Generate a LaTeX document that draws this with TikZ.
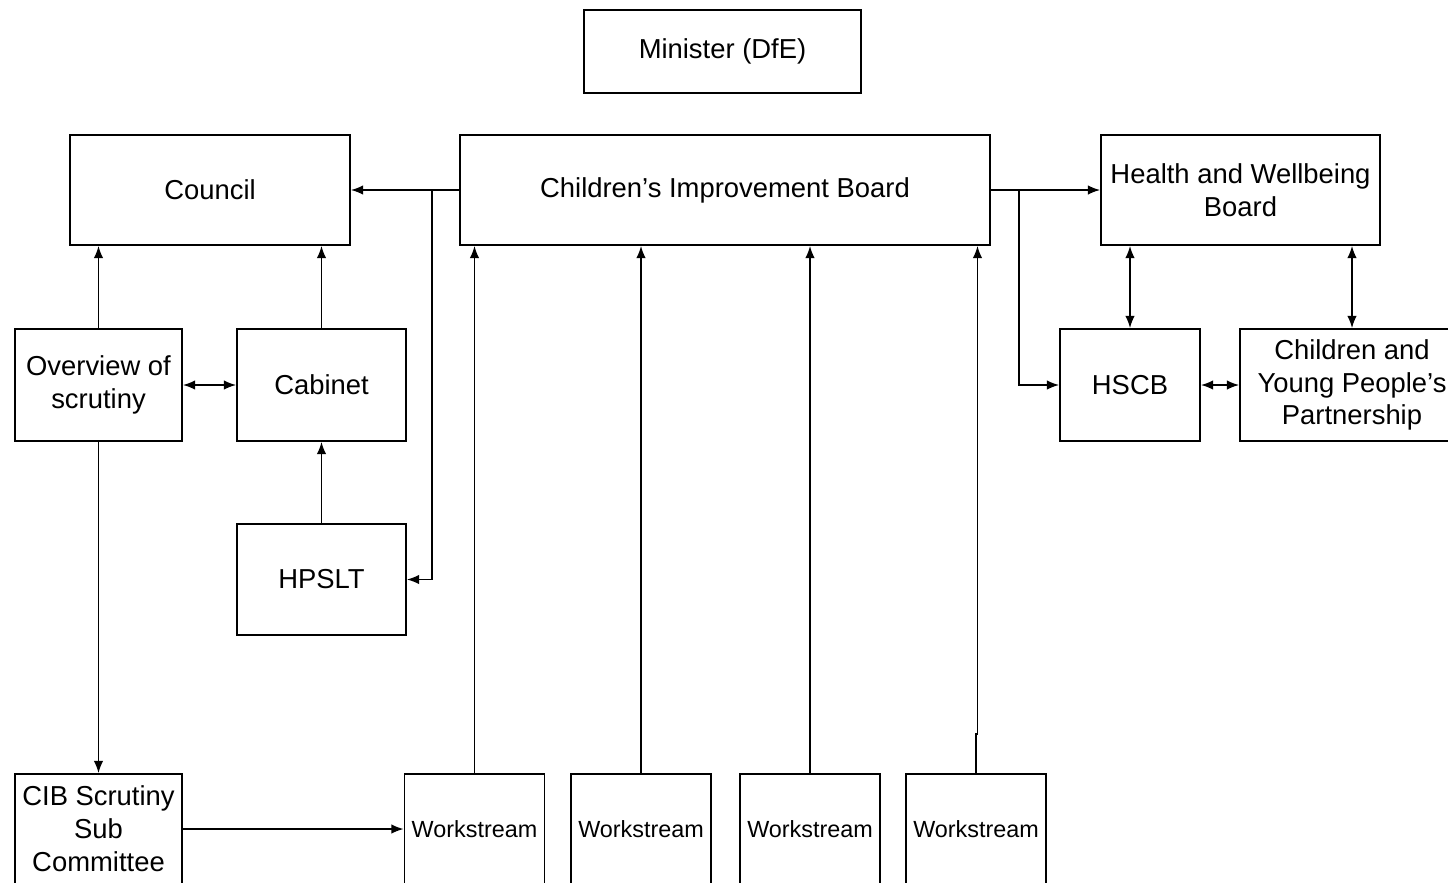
\documentclass[tikz,border=0pt]{standalone}
\usepackage{fontspec}
\setmainfont{Liberation Sans}
\usetikzlibrary{arrows.meta}
\tikzset{
	unit/.style = {draw, line width=1pt, inner sep=0pt, align=center,
	 font=\fontsize{15.6}{18.7}\selectfont},
	wsunit/.style = {unit, minimum width=2.8cm, minimum height=2.2cm,
	 font=\fontsize{13.3}{16}\selectfont},
	link/.style = {line width=1pt, -{Latex[length=7pt,width=5.5pt]}},
	twoway/.style = {line width=1pt, {Latex[length=7pt,width=5.5pt]}-{Latex[length=7pt,width=5.5pt]}},
}

\begin{document}
\begin{tikzpicture}[x=0.02cm, y=-0.02cm]
\useasboundingbox (0,0) rectangle (1448,883);
\clip (0,0) rectangle (1448,883);

% NODES
% top row
\node (minister) [unit, minimum width=5.54cm, minimum height=1.66cm] at (722.5,51.5) {Minister (DfE)};
\node (council) [unit, minimum width=5.6cm, minimum height=2.2cm] at (210,190) {Council};
\node (cib) [unit, minimum width=10.6cm, minimum height=2.2cm] at (725,190) {Children’s Improvement Board};
\node (hwb) [unit, minimum width=5.58cm, minimum height=2.2cm] at (1240.5,190) {Health and Wellbeing\\Board};
% left side
\node (overview) [unit, minimum width=3.34cm, minimum height=2.24cm] at (98.5,385) {Overview of\\scrutiny};
\node (cabinet) [unit, minimum width=3.38cm, minimum height=2.24cm] at (321.5,385) {Cabinet};
\node (hpslt) [unit, minimum width=3.38cm, minimum height=2.22cm] at (321.5,579.5) {HPSLT};
% right side
\node (hscb) [unit, minimum width=2.8cm, minimum height=2.24cm] at (1130,385) {HSCB};
\node (cypp) [unit, minimum width=4.48cm, minimum height=2.24cm] at (1352,385) {Children and\\Young People's\\Partnership};
% bottom row
\node (scrutiny) [unit, minimum width=3.34cm, minimum height=2.2cm] at (98.5,829) {CIB Scrutiny\\Sub\\Committee};
\node (ws1) [wsunit] at (474.5,829) {Workstream};
\node (ws2) [wsunit] at (641,829) {Workstream};
\node (ws3) [wsunit] at (810,829) {Workstream};
\node (ws4) [wsunit] at (976,829) {Workstream};

% CONNECTIONS
\coordinate (lsplit) at (432,190);
\coordinate (rsplit) at (1019,190);
\draw[link] (cib.west) -- (council.east);
\draw[link] (lsplit) |- (hpslt.east);
\draw[link] (cib.east) -- (hwb.west);
\draw[link] (rsplit) |- (hscb.west);
\draw[link] (overview.north) -- (overview.north |- council.south);
\draw[link] (cabinet.north) -- (cabinet.north |- council.south);
\draw[twoway] (overview.east) -- (cabinet.west);
\draw[link] (hpslt.north) -- (cabinet.south);
\draw[link] (overview.south) -- (scrutiny.north);
\draw[link] (scrutiny.east) -- (ws1.west);
\foreach \w in {ws1,ws2,ws3}
	\draw[link] (\w.north) -- (\w.north |- cib.south);
\draw[link] (ws4.north) -- ++(0,-39) -- ++(1.5,0) coordinate (kink) -- (kink |- cib.south);
\draw[twoway] (hscb.north) -- (hscb.north |- hwb.south);
\draw[twoway] (cypp.north) -- (cypp.north |- hwb.south);
\draw[twoway] (hscb.east) -- (cypp.west);

\end{tikzpicture}
\end{document}
